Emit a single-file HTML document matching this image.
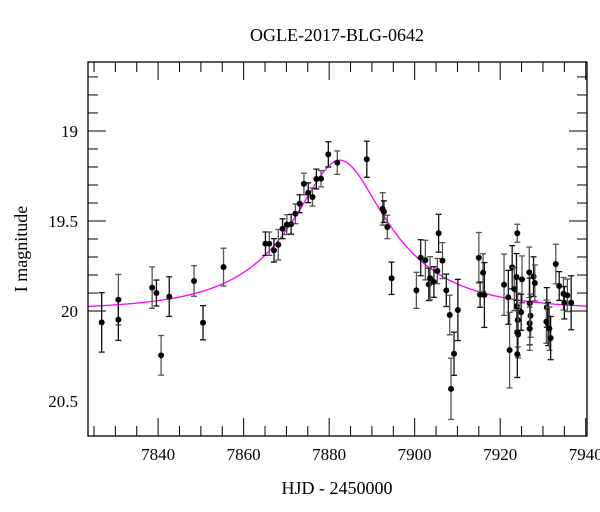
<!DOCTYPE html>
<html><head><meta charset="utf-8"><style>
body{margin:0;background:#fff;}
svg{display:block;font-family:"Liberation Serif",serif;}
</style></head><body>
<svg id="chart" width="600" height="512" viewBox="0 0 600 512">
<rect x="0" y="0" width="600" height="512" fill="#fff"/>
<text x="337" y="41" text-anchor="middle" font-size="18">OGLE-2017-BLG-0642</text>
<text x="337" y="494" text-anchor="middle" font-size="18">HJD - 2450000</text>
<text transform="translate(27,249) rotate(-90)" text-anchor="middle" font-size="18">I magnitude</text>
<g id="axes"></g>
<g id="model"></g>
<g id="points"></g>
<rect x="88" y="62" width="499" height="374" fill="none" stroke="#000" stroke-width="1.3"/>
</svg>
<script>
const days=[7826.8,7830.7,7830.7,7838.6,7839.6,7840.7,7842.6,7848.4,7850.5,7855.3,7865.1,7866.0,7867.1,7868.1,7869.1,7870.1,7871.1,7872.1,7873.1,7874.1,7875.1,7876.1,7877.0,7878.1,7879.8,7881.9,7888.8,7892.5,7892.8,7893.6,7894.6,7900.4,7901.4,7902.5,7903.3,7903.6,7904.5,7905.3,7905.6,7906.5,7907.4,7908.2,7909.2,7908.5,7910.1,7915.0,7915.3,7916.0,7916.3,7920.9,7921.9,7922.2,7922.8,7923.3,7923.8,7924.0,7923.9,7924.1,7924.1,7924.2,7924.0,7925.1,7924.9,7926.8,7926.9,7927.1,7926.9,7926.9,7927.8,7928.1,7930.9,7930.8,7931.2,7931.5,7931.8,7933.0,7933.8,7934.8,7935.0,7935.7,7936.6];
const mags=[20.063,19.937,20.048,19.87,19.90,20.246,19.92,19.833,20.065,19.756,19.626,19.626,19.663,19.632,19.543,19.52,19.518,19.46,19.404,19.294,19.343,19.367,19.267,19.265,19.13,19.176,19.157,19.433,19.448,19.533,19.818,19.885,19.704,19.717,19.852,19.818,19.839,19.778,19.568,19.72,19.885,20.022,20.237,20.432,19.994,19.704,19.909,19.787,19.911,19.854,19.924,20.217,19.757,19.878,19.811,19.568,19.972,20.05,20.117,20.13,20.239,19.824,20.007,19.785,19.957,20.026,20.068,20.098,19.809,19.844,19.98,20.059,20.072,20.098,20.15,19.739,19.861,19.904,19.954,19.913,19.954];
const errs=[0.165,0.14,0.115,0.115,0.072,0.11,0.11,0.085,0.095,0.105,0.065,0.065,0.065,0.085,0.055,0.055,0.055,0.055,0.05,0.06,0.055,0.05,0.055,0.045,0.07,0.065,0.1,0.09,0.06,0.065,0.09,0.1,0.1,0.11,0.09,0.12,0.085,0.07,0.105,0.1,0.09,0.11,0.12,0.17,0.17,0.14,0.07,0.105,0.18,0.17,0.15,0.21,0.12,0.12,0.13,0.05,0.15,0.15,0.13,0.13,0.13,0.13,0.1,0.14,0.14,0.12,0.12,0.12,0.11,0.1,0.11,0.12,0.12,0.12,0.12,0.11,0.08,0.09,0.09,0.09,0.15];
const xTicks=[7840,7860,7880,7900,7920,7940];
const yTicks=[19,19.5,20,20.5];
const modelParams={t0:7882.5,tE:23,u0:0.40,fs:0.7,base:19.995};

const NS="http://www.w3.org/2000/svg";
const X0=88,X1=587,Y0=62,Y1=436;
const dMin=7823.6,dMax=7940.3,mMin=18.617,mMax=20.694;
const sx=d=>X0+(d-dMin)/(dMax-dMin)*(X1-X0);
const sy=m=>Y0+(m-mMin)/(mMax-mMin)*(Y1-Y0);
function mk(tag,attrs,parent){const e=document.createElementNS(NS,tag);for(const k in attrs)e.setAttribute(k,attrs[k]);parent.appendChild(e);return e;}
const axes=document.getElementById('axes');
for(let d=7825;d<=7940;d+=5){
  const major=xTicks.includes(d);const L=major?18:10;const x=sx(d);
  const t1=mk('line',{x1:x,y1:Y1,x2:x,y2:Y1-L,stroke:'#000','stroke-width':1},axes);
  
  
  const t2=mk('line',{x1:x,y1:Y0,x2:x,y2:Y0+L,stroke:'#000','stroke-width':1},axes);
  
  
}
xTicks.forEach(d=>{
  const t=mk('text',{x:sx(d),y:Y1+24,'text-anchor':'middle','font-size':17},axes);
  t.textContent=d;
  
  
});
for(let i=7;i<=20;i++){
  const mm=i/10+18;
  if(mm<mMin||mm>mMax)continue;
  const major=yTicks.some(v=>Math.abs(v-mm)<1e-6);const L=major?18:10;const y=sy(mm);
  const t1=mk('line',{x1:X0,y1:y,x2:X0+L,y2:y,stroke:'#000','stroke-width':1},axes);
  
  
  const t2=mk('line',{x1:X1,y1:y,x2:X1-L,y2:y,stroke:'#000','stroke-width':1},axes);
  
  
}
yTicks.forEach(m=>{
  const t=mk('text',{x:X0-10,y:sy(m)+6,'text-anchor':'end','font-size':17},axes);
  t.textContent=m;
  
  
});
function modelMag(t){const p=modelParams;const tau=(t-p.t0)/p.tE;const u=Math.sqrt(tau*tau+p.u0*p.u0);
  const A=(u*u+2)/(u*Math.sqrt(u*u+4));const F=p.fs*A+(1-p.fs);return p.base-2.5*Math.log10(F);}
let dpath='';
for(let x=X0;x<=X1;x+=1){const d=dMin+(x-X0)/(X1-X0)*(dMax-dMin);dpath+=(x===X0?'M':'L')+x+','+sy(modelMag(d)).toFixed(2);}
const mc=mk('path',{d:dpath,fill:'none',stroke:'#ff00ff','stroke-width':1.3},document.getElementById('model'));


const pg=document.getElementById('points');
days.forEach((d,i)=>{
  const x=sx(d),y=sy(mags[i]),ya=sy(mags[i]-errs[i]),yb=sy(mags[i]+errs[i]);
  const col=i%2?'#555':'#111';
  const g=mk('g',{},pg);
  
  
  mk('line',{x1:x,y1:ya,x2:x,y2:yb,stroke:col,'stroke-width':1.3},g);
  mk('line',{x1:x-3,y1:ya,x2:x+3,y2:ya,stroke:col,'stroke-width':1.3},g);
  mk('line',{x1:x-3,y1:yb,x2:x+3,y2:yb,stroke:col,'stroke-width':1.3},g);
  mk('circle',{cx:x,cy:y,r:3,fill:'#000'},g);
});
</script>
</body></html>
